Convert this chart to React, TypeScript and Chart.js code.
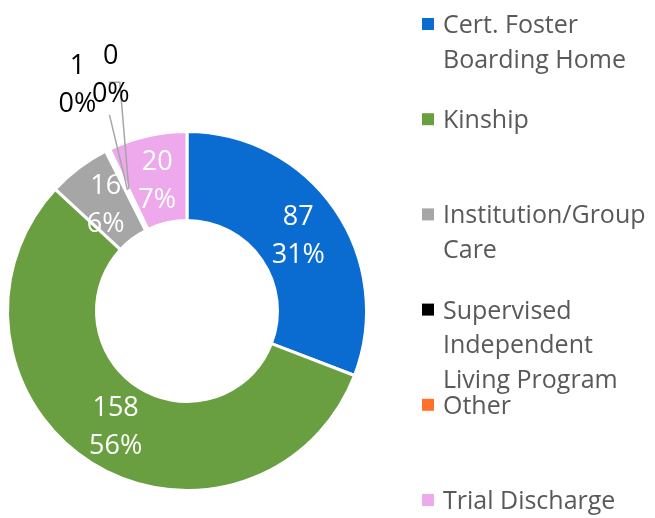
import React, { useEffect, useRef } from "react";
import { Chart, registerables } from "chart.js";

Chart.register(...registerables);

const categories = [
  "Cert. Foster Boarding Home",
  "Kinship",
  "Institution/Group Care",
  "Supervised Independent Living Program",
  "Other",
  "Trial Discharge",
];
const counts = [87, 158, 16, 1, 0, 20];
const colors = ["#0A6BD0", "#6A9F41", "#A6A6A6", "#000000", "#FF7029", "#EDA9EB"];
const borderWidths = [3, 3, 3, 4.2, 3, 3];

const FONT = '"Open Sans", "Noto Sans", sans-serif';

// styling for labels placed outside small slices (offsets from slice anchor)
const outsideLabelStyle: Record<number, { dx: number; dy: number; path: number[][] }> = {
  3: { dx: -50, dy: -106, path: [[32, 31]] },
  4: { dx: -18, dy: -116, path: [[-2, 9], [9, 9]] },
};

function wrapText(ctx: CanvasRenderingContext2D, text: string, maxW: number): string[] {
  const words = text.split(" ");
  const lines: string[] = [];
  let cur = "";
  for (const w of words) {
    const t = cur ? cur + " " + w : w;
    if (cur && ctx.measureText(t).width > maxW) {
      lines.push(cur);
      cur = w;
    } else cur = t;
  }
  if (cur) lines.push(cur);
  return lines;
}

const labelPlugin = {
  id: "sliceLabels",
  afterDatasetsDraw(chart: any) {
    const ctx: CanvasRenderingContext2D = chart.ctx;
    const meta = chart.getDatasetMeta(0);
    const total = counts.reduce((a, b) => a + b, 0);
    ctx.save();
    ctx.font = `27px ${FONT}`;
    ctx.textAlign = "center";
    ctx.textBaseline = "alphabetic";
    meta.data.forEach((arc: any, i: number) => {
      const v = counts[i];
      const pct = Math.round((v / total) * 100) + "%";
      const p = arc.tooltipPosition(false);
      const out = outsideLabelStyle[i];
      if (out) {
        const cx = p.x + out.dx;
        const cy = p.y + out.dy;
        ctx.strokeStyle = "#A6A6A6";
        ctx.lineWidth = 1.5;
        ctx.beginPath();
        out.path.forEach((pt, k) => {
          if (k === 0) ctx.moveTo(cx + pt[0], cy + pt[1]);
          else ctx.lineTo(cx + pt[0], cy + pt[1]);
        });
        ctx.lineTo(p.x, p.y);
        ctx.stroke();
        ctx.fillStyle = "#000000";
        ctx.fillText(String(v), cx, cy - 9.5);
        ctx.fillText(pct, cx, cy + 28.5);
      } else {
        ctx.fillStyle = "#FFFFFF";
        ctx.fillText(String(v), p.x, p.y - 9.5);
        ctx.fillText(pct, p.x, p.y + 28.5);
      }
    });
    ctx.restore();
  },
  afterDraw(chart: any) {
    const ctx: CanvasRenderingContext2D = chart.ctx;
    ctx.save();
    ctx.font = `25px ${FONT}`;
    ctx.textAlign = "left";
    ctx.textBaseline = "alphabetic";
    const markerX = 422;
    const textX = 443;
    const maxW = chart.width - textX + 2;
    categories.forEach((name, i) => {
      const lineCenter = 24 + i * 95.2;
      ctx.fillStyle = colors[i];
      ctx.fillRect(markerX, lineCenter - 6, 12, 12);
      ctx.fillStyle = "#595959";
      const lines = wrapText(ctx, name, maxW);
      lines.forEach((ln, k) => {
        ctx.fillText(ln, textX, lineCenter + 9 + k * 34.5);
      });
    });
    ctx.restore();
  },
};

export default function App() {
  const ref = useRef<HTMLCanvasElement | null>(null);
  useEffect(() => {
    if (!ref.current) return;
    const chart = new Chart(ref.current, {
      type: "doughnut",
      data: {
        labels: categories,
        datasets: [
          {
            data: counts,
            backgroundColor: colors,
            borderColor: "#FFFFFF",
            borderWidth: borderWidths,
            hoverOffset: 0,
          },
        ],
      },
      options: {
        responsive: false,
        animation: false,
        radius: 179.5,
        cutout: "50.42%",
        rotation: 0,
        layout: { padding: { left: 0, right: 281, top: 104, bottom: 0 } },
        plugins: {
          legend: { display: false },
          tooltip: { enabled: false },
        },
        events: [],
      } as any,
      plugins: [labelPlugin],
    });
    return () => chart.destroy();
  }, []);
  return (
    <div style={{ position: "fixed", left: 0, top: 0, width: 655, height: 518, background: "#FFFFFF" }}>
      <canvas ref={ref} width={655} height={518} style={{ width: 655, height: 518, display: "block" }} />
    </div>
  );
}
